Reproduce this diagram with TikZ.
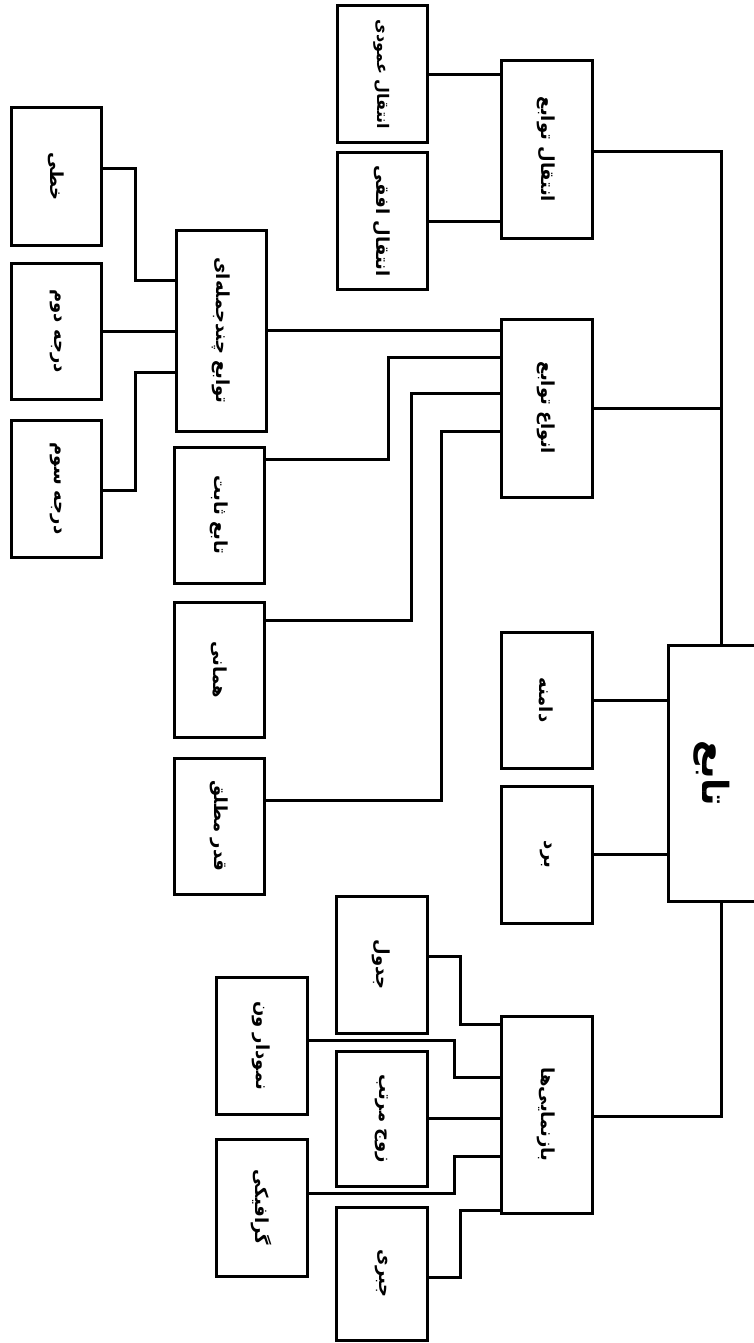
\documentclass[tikz,border=0pt]{standalone}
\usepackage{fontspec}
\usepackage{graphicx}
\usepackage{tikz}
\TeXXeTstate=1
\newfontfamily\arabicfont[Script=Arabic]{DejaVu Sans}
\newcommand\fa[1]{\rotatebox{-90}{\arabicfont\bfseries\beginR #1\endR}}
\newcommand\elbow[3]{\coordinate (pA) at (#1); \coordinate (pC) at (#3);
  \draw (pA) -| (#2 |- pC) -- (pC);}
\tikzset{
  fbox/.style={draw, line width=3pt, fill=white, inner sep=0pt,
    minimum width=90pt, minimum height=137pt,
    font=\fontsize{18}{22}\selectfont},
}

\begin{document}
\begin{tikzpicture}[x=1pt, y=-1pt, line width=3pt]
  \useasboundingbox[fill=white] (0,0) rectangle (754,1343);
  % elbow columns
  \coordinate (trunk) at (721,0);
  \coordinate (kPoly) at (135,0);
  \coordinate (kConst) at (388,0);
  \coordinate (kIdent) at (411,0);
  \coordinate (kAbs) at (441,0);
  \coordinate (kTab) at (460,0);
  \coordinate (kVenn) at (454,0);
  % root
  \node[fbox, minimum width=88pt, minimum height=256pt,
    font=\fontsize{36}{42}\selectfont] (root) at (712,773) {\fa{تابع}};
  % first level
  \node[fbox, minimum width=91pt, minimum height=177pt] (shift) at (546.5,149.5) {\fa{انتقال توابع}};
  \node[fbox, minimum width=91pt, minimum height=178pt] (types) at (546.5,408) {\fa{انواع توابع}};
  \node[fbox, minimum width=91pt, minimum height=136pt] (domain) at (546.5,700) {\fa{دامنه}};
  \node[fbox, minimum width=91pt] (range) at (546.5,854.5) {\fa{برد}};
  \node[fbox, minimum width=91pt, minimum height=197pt] (repr) at (546.5,1114.5) {\fa{بازنمایی^^^^200cها}};
  % shifts
  \node[fbox, font=\fontsize{16}{20}\selectfont] (vert) at (382,74.5) {\fa{انتقال عمودی}};
  \node[fbox, minimum height=136pt] (horiz) at (382,221) {\fa{انتقال افقی}};
  % kinds
  \node[fbox, minimum height=201pt] (poly) at (221,330.5) {\fa{توابع چندجمله^^^^200cای}};
  \node[fbox, minimum height=136pt] (const) at (219,515) {\fa{تابع ثابت}};
  \node[fbox, minimum height=135pt] (ident) at (219,669.5) {\fa{همانی}};
  \node[fbox, minimum height=136pt] (absval) at (219,826) {\fa{قدر مطلق}};
  \node[fbox] (linear) at (56,176.5) {\fa{خطی}};
  \node[fbox, minimum height=136pt] (quad) at (56,331) {\fa{درجه دوم}};
  \node[fbox] (cubic) at (56,488.5) {\fa{درجه سوم}};
  % representations
  \node[fbox, minimum width=91pt] (table) at (381.5,964.5) {\fa{جدول}};
  \node[fbox, minimum width=91pt] (venn) at (261.5,1045.5) {\fa{نمودار ون}};
  \node[fbox, minimum width=91pt, minimum height=135pt] (pair) at (381.5,1118.5) {\fa{زوج مرتب}};
  \node[fbox, minimum width=91pt] (graph) at (261.5,1207.5) {\fa{گرافیکی}};
  \node[fbox, minimum width=91pt, minimum height=133pt] (alg) at (381.5,1273.5) {\fa{جبری}};
  % trunk
  \draw ([yshift=-2pt]shift.east) -| (trunk |- root.north);
  \draw (types.east) -- (trunk |- types.east);
  \draw ([yshift=-2pt]repr.east) -| (trunk |- root.south);
  \draw (domain.east) -- (domain.east -| root.west);
  \draw (range.east) -- (range.east -| root.west);
  % shifts
  \draw (vert.east) -- (vert.east -| shift.west);
  \draw (horiz.east) -- (horiz.east -| shift.west);
  % kinds
  \draw (poly.east) -- (poly.east -| types.west);
  \elbow{[yshift=-14pt]const.north east}{kConst}{[yshift=-40pt]types.north west}
  \elbow{[yshift=-20pt]ident.north east}{kIdent}{[yshift=-76pt]types.north west}
  \elbow{[yshift=-44pt]absval.north east}{kAbs}{[yshift=-114pt]types.north west}
  \elbow{[yshift=-62pt]linear.north east}{kPoly}{[yshift=-52pt]poly.north west}
  \draw (quad.east) -- (quad.east -| poly.west);
  \elbow{[yshift=-72pt]cubic.north east}{kPoly}{[yshift=-144pt]poly.north west}
  % representations
  \elbow{[yshift=-62pt]table.north east}{kTab}{[yshift=-10pt]repr.north west}
  \elbow{[yshift=-65pt]venn.north east}{kVenn}{[yshift=-63pt]repr.north west}
  \draw (pair.east) -- (pair.east -| repr.west);
  \elbow{[yshift=-56pt]graph.north east}{kVenn}{[yshift=-142pt]repr.north west}
  \elbow{[yshift=-72pt]alg.north east}{kTab}{[yshift=-196pt]repr.north west}
\end{tikzpicture}
\end{document}
